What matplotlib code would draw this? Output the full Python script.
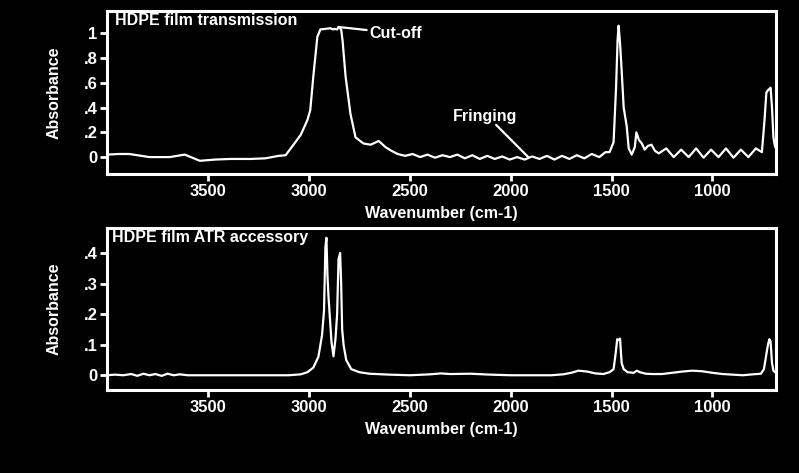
import numpy as np
import matplotlib
matplotlib.use("Agg")
import matplotlib.pyplot as plt
from matplotlib.ticker import FixedLocator

# HDPE film, transmission spectrum (wavenumber cm-1, absorbance)
trans_wn = [4000, 3940, 3890, 3790, 3690, 3615, 3600, 3540, 3465, 3390, 3290, 3215,
            3150, 3115, 3090, 3040, 3007, 2993, 2978, 2958, 2943, 2918, 2893, 2880,
            2873, 2860, 2853, 2840, 2833, 2818, 2794, 2769, 2730, 2694, 2654, 2620,
            2590, 2560, 2523, 2486, 2449, 2412, 2375, 2338, 2301, 2264, 2227, 2190,
            2153, 2116, 2079, 2042, 2005, 1968, 1931, 1894, 1857, 1820, 1783, 1746,
            1709, 1672, 1635, 1598, 1561, 1530, 1510, 1490, 1478, 1470, 1465, 1458,
            1450, 1440, 1425, 1415, 1400, 1385, 1377, 1365, 1350, 1336, 1320, 1302,
            1285, 1266, 1229, 1192, 1155, 1118, 1081, 1044, 1007, 970, 933, 896,
            859, 822, 785, 755, 742, 733, 725, 718, 712, 705, 698, 692, 688]
trans_abs = [0.02, 0.025, 0.025, 0.0, 0.0, 0.02, 0.01, -0.03, -0.02, -0.015, -0.015, -0.01,
             0.01, 0.015, 0.07, 0.18, 0.30, 0.38, 0.65, 0.97, 1.03, 1.035, 1.04, 1.03,
             1.035, 1.03, 1.05, 1.03, 0.94, 0.65, 0.35, 0.16, 0.11, 0.10, 0.13, 0.08,
             0.05, 0.025, 0.01, 0.025, 0.0, 0.02, -0.005, 0.015, 0.0, 0.02, -0.01, 0.015,
             -0.015, 0.01, -0.015, 0.005, -0.02, 0.0, -0.02, 0.005, -0.015, 0.01, -0.02, 0.01,
             -0.015, 0.015, -0.01, 0.025, 0.0, 0.04, 0.04, 0.12, 0.55, 0.95, 1.06, 0.92,
             0.70, 0.40, 0.25, 0.07, 0.02, 0.08, 0.20, 0.14, 0.11, 0.06, 0.09, 0.10,
             0.05, 0.03, 0.07, 0.0, 0.06, 0.0, 0.07, -0.005, 0.06, 0.0, 0.07, -0.005,
             0.06, 0.0, 0.07, 0.04, 0.30, 0.52, 0.54, 0.55, 0.56, 0.40, 0.16, 0.10, 0.08]

# HDPE film, ATR accessory
atr_wn = [4000, 3960, 3920, 3880, 3850, 3820, 3790, 3760, 3730, 3700, 3670, 3640,
          3600, 3500, 3400, 3300, 3200, 3100, 3040, 3007, 2978, 2953, 2935, 2925,
          2918, 2913, 2908, 2903, 2888, 2878, 2868, 2860, 2853, 2845, 2840, 2835,
          2828, 2815, 2790, 2750, 2700, 2600, 2500, 2400, 2346, 2300, 2200, 2100,
          2000, 1900, 1800, 1740, 1700, 1664, 1620, 1580, 1540, 1510, 1490, 1480,
          1472, 1465, 1458, 1450, 1440, 1420, 1390, 1375, 1360, 1330, 1300, 1250,
          1200, 1150, 1100, 1050, 1000, 950, 900, 850, 800, 760, 745, 735, 725,
          718, 712, 705, 698, 690]
atr_abs = [0.0, 0.002, 0.0, 0.004, -0.002, 0.005, 0.0, 0.004, -0.002, 0.005, 0.0, 0.003,
           0.0, 0.0, 0.0, 0.0, 0.0, 0.0, 0.003, 0.01, 0.025, 0.06, 0.13, 0.21,
           0.42, 0.45, 0.33, 0.26, 0.11, 0.062, 0.12, 0.20, 0.38, 0.40, 0.30, 0.15,
           0.10, 0.05, 0.02, 0.01, 0.005, 0.002, 0.0, 0.003, 0.006, 0.004, 0.005, 0.002,
           0.0, 0.0, 0.0, 0.003, 0.008, 0.015, 0.012, 0.006, 0.004, 0.01, 0.02, 0.07,
           0.118, 0.115, 0.12, 0.04, 0.02, 0.01, 0.008, 0.015, 0.01, 0.005, 0.004, 0.004,
           0.008, 0.012, 0.015, 0.013, 0.008, 0.004, 0.002, 0.0, 0.003, 0.005, 0.02, 0.06,
           0.10, 0.118, 0.11, 0.04, 0.015, 0.01]

top_yticks = [0, 0.2, 0.4, 0.6, 0.8, 1.0]
top_ylabels = ["0", ".2", ".4", ".6", ".8", "1"]
bot_yticks = [0, 0.1, 0.2, 0.3, 0.4]
bot_ylabels = ["0", ".1", ".2", ".3", ".4"]
x_ticks = [3500, 3000, 2500, 2000, 1500, 1000]

plt.rcParams["font.family"] = ["Liberation Sans", "DejaVu Sans"]
plt.rcParams["font.weight"] = "bold"

fig = plt.figure(figsize=(7.99, 4.73), dpi=100, facecolor="black")
ax1 = fig.add_axes([0.134, 0.632, 0.837, 0.345])
ax2 = fig.add_axes([0.134, 0.175, 0.837, 0.343])


def style(ax, yticks, ylabels, ylim):
    ax.set_facecolor("black")
    for s in ax.spines.values():
        s.set_color("white")
        s.set_linewidth(2.2)
    ax.set_xlim(4000, 686)
    ax.set_ylim(*ylim)
    ax.xaxis.set_major_locator(FixedLocator(x_ticks))
    ax.set_yticks(yticks)
    ax.set_yticklabels(ylabels)
    ax.tick_params(colors="white", labelsize=12, width=2, length=5, pad=2)
    for lab in ax.get_xticklabels() + ax.get_yticklabels():
        lab.set_fontweight("bold")
    ax.set_xlabel("Wavenumber (cm-1)", color="white", fontsize=11.5,
                  fontweight="bold", labelpad=5)
    ax.set_ylabel("Absorbance", color="white", fontsize=11.5,
                  fontweight="bold", labelpad=16)


ax1.plot(trans_wn, trans_abs, color="white", lw=1.6)
style(ax1, top_yticks, top_ylabels, (-0.137, 1.18))
ax1.text(0.012, 0.94, "HDPE film transmission", transform=ax1.transAxes,
         color="white", fontsize=11.5, fontweight="bold", va="center")
ax1.annotate("Cut-off", xy=(2853, 1.05), xytext=(2700, 1.0), color="white",
             fontsize=11.5, fontweight="bold", va="center",
             arrowprops=dict(arrowstyle="-", color="white", lw=1.6, shrinkA=0, shrinkB=0))
ax1.annotate("", xy=(1913, 0.0), xytext=(2072, 0.26),
             arrowprops=dict(arrowstyle="-", color="white", lw=1.6, shrinkA=0, shrinkB=0))
ax1.text(2127, 0.33, "Fringing", color="white", fontsize=11.5, fontweight="bold",
         ha="center", va="center")

ax2.plot(atr_wn, atr_abs, color="white", lw=1.6)
style(ax2, bot_yticks, bot_ylabels, (-0.049, 0.482))
ax2.text(0.008, 0.94, "HDPE film ATR accessory", transform=ax2.transAxes,
         color="white", fontsize=11.5, fontweight="bold", va="center")

fig.savefig("out.png", dpi=100, facecolor="black")
